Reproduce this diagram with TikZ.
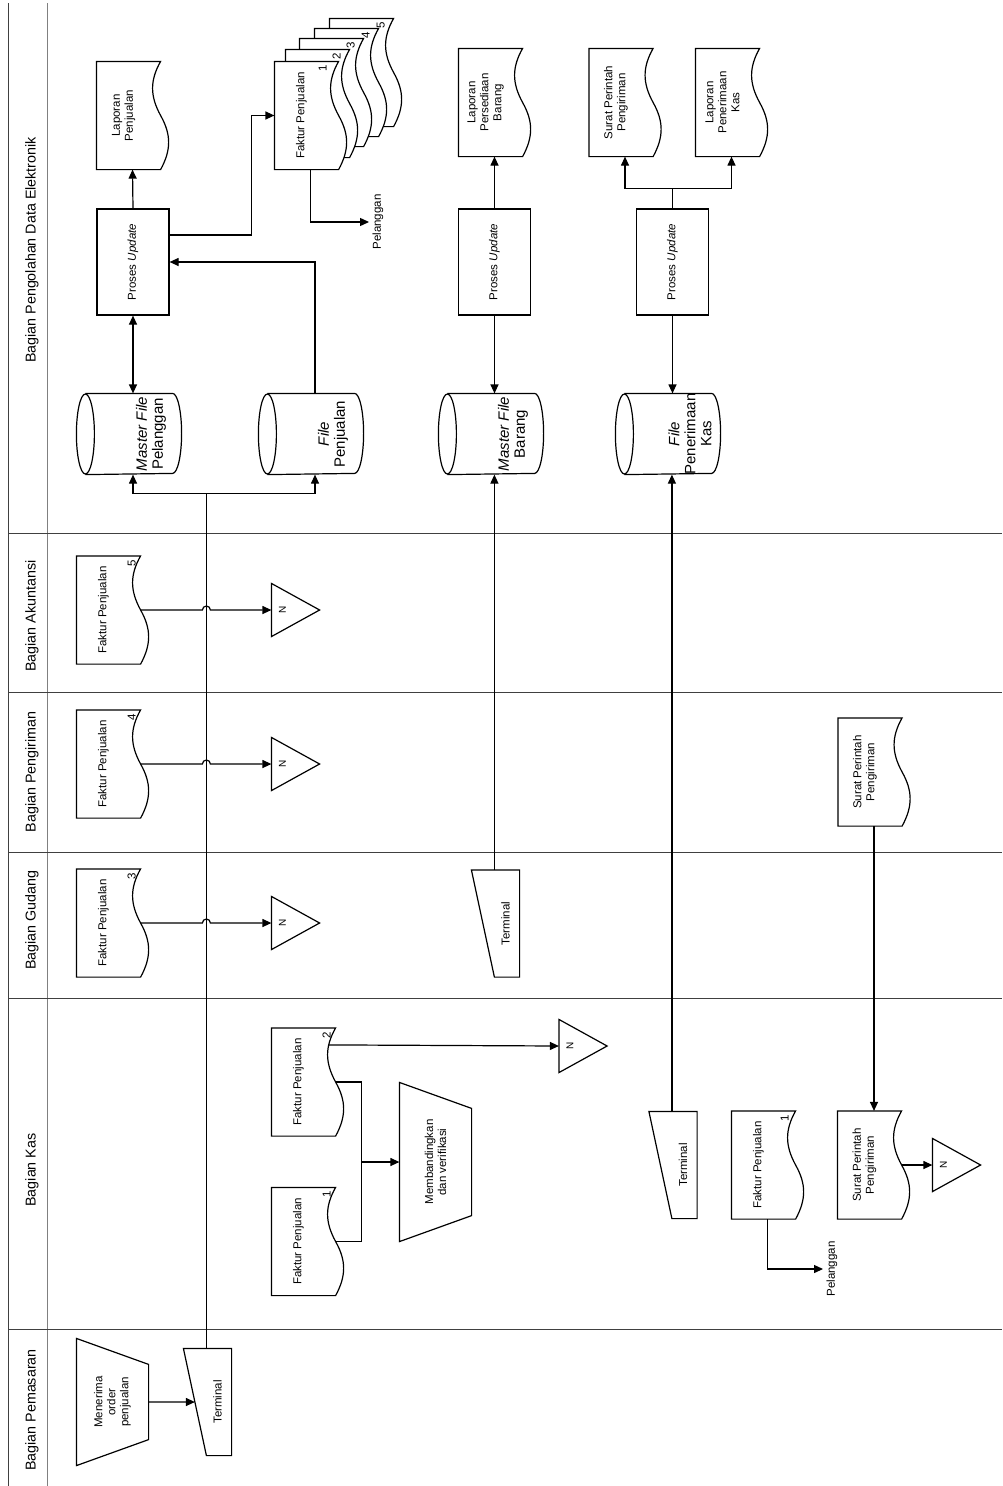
\documentclass[tikz,border=0pt]{standalone}
\usepackage{fontspec}
\setmainfont{Liberation Sans}
\usepackage{tikz}
\usetikzlibrary{arrows.meta,calc}

\newcommand{\kecil}{\fontsize{11.5}{13}\selectfont}
\newcommand{\sedang}{\fontsize{15}{16}\selectfont}
\newcommand{\lajur}{\fontsize{14.3}{16}\selectfont}
\newcommand{\mini}{\fontsize{10}{12}\selectfont}

\tikzset{
  garis/.style={black!75, line width=1pt},
  teks/.style={rotate=90, align=center, font=\kecil, inner sep=0pt},
  dokbox/.style={rectangle, inner sep=0pt, minimum width=71pt, minimum height=107pt},
  prosesbox/.style={rectangle, draw, inner sep=0pt, minimum width=72pt, minimum height=106pt},
  silbox/.style={rectangle, inner sep=0pt, minimum width=104pt, minimum height=80pt},
  termbox/.style={rectangle, inner sep=0pt, minimum width=47pt, minimum height=106pt},
  arsipbox/.style={rectangle, inner sep=0pt, minimum width=47pt, minimum height=52pt},
  manbox/.style={rectangle, inner sep=0pt, minimum width=71pt},
  panah/.style={-{Triangle[length=9pt,width=8pt]}},
  panah2/.style={{Triangle[length=9pt,width=8pt]}-{Triangle[length=9pt,width=8pt]}},
}

% dokumen: nama, posisi, teks
\newcommand{\dokumen}[3]{%
  \node[dokbox] (#1) at (#2) {};
  \draw[fill=white] (#1.north west) -- ($(#1.north east)+(-8,0)$)
    .. controls ($(#1.north east)+(-18.7,19)$) and ($(#1.north east)+(-18.7,34.5)$) .. ($(#1.east)+(-8,0)$)
    .. controls ($(#1.east)+(2.7,19)$) and ($(#1.east)+(2.7,34.5)$) .. ($(#1.south east)+(-8,0)$)
    -- (#1.south west) -- cycle;
  \node[teks] (#1-t) at ($(#1)+(-9,0)$) {#3};
}
% nomor lembar: nama, nomor, jarak dari kanan
\newcommand{\nomor}[3]{%
  \node[teks] (#1-n) at ($(#1.north east)+(-#3,7)$) {#2};
}
\newcommand{\proses}[3]{%
  \node[prosesbox] (#1) at (#2) {};
  \node[teks] (#1-t) at (#1) {#3};
}
\newcommand{\silinder}[3]{%
  \node[silbox] (#1) at (#2) {};
  \draw ($(#1.west)+(9,0)$) ellipse [x radius=9, y radius=40];
  \draw ($(#1.north west)+(9,0)$) -- ($(#1.north east)+(-9,0)$)
    arc [start angle=-90, end angle=90, x radius=9, y radius=40]
    -- ($(#1.south west)+(9,0)$);
  \node[teks, font=\sedang] (#1-t) at ($(#1)+(22,0)$) {#3};
}
\newcommand{\terminal}[2]{%
  \node[termbox] (#1) at (#2) {};
  \draw (#1.north west) -- (#1.north east) -- (#1.south east)
    -- ($(#1.south west)+(23,0)$) coordinate (#1-b) -- cycle;
  \coordinate (#1-a) at ($(#1.north west)+(23,0)$);
  \coordinate (#1-k) at ($(#1.north west)!0.5!(#1-b)$);
  \node[teks] (#1-t) at ($(#1)+(10,0)$) {Terminal};
}
% manual: nama, posisi, tinggi, teks
\newcommand{\manual}[4]{%
  \node[manbox, minimum height=#3] (#1) at (#2) {};
  \draw (#1.north west) -- ($(#1.north east)+(0,26)$)
    -- ($(#1.south east)+(0,-26)$) -- (#1.south west) -- cycle;
  \node[teks] (#1-t) at (#1) {#4};
}
\newcommand{\arsip}[2]{%
  \node[arsipbox] (#1) at (#2) {};
  \draw (#1.north west) -- (#1.east) -- (#1.south west) -- cycle;
  \node[teks, font=\mini] (#1-t) at ($(#1.west)+(11,0)$) {N};
}

\begin{document}
\begin{tikzpicture}[x=1pt, y=-1pt, line width=1.2pt]
\useasboundingbox (0,0) rectangle (1002,1486);
%%%%% Lajur %%%%%
\draw[garis] (8,3) -- (8,1486);
\draw[garis, gray] (47,3) -- (47,1486);
\foreach \y in {533,692,852,998,1329}{
\draw[garis] (8,\y) -- (1002,\y);
}
\foreach \nama/\y in {Bagian Pengolahan Data Elektronik/250, Bagian Akuntansi/616, Bagian Pengiriman/772, Bagian Gudang/920, Bagian Kas/1170, Bagian Pemasaran/1410}{
\node[teks, font=\lajur] (lajur\y) at (32,\y) {\nama};
}

%%%%% Bagian Pemasaran %%%%%
\manual{mo}{112.5,1402}{126pt}{Menerima\\order\\penjualan}
\terminal{tp}{207.5,1402}
\draw[panah] (mo.east) -- (tp-k);
\path (tp-a) ++(0,-855) coordinate (cab);

%%%%% Bagian Kas %%%%%
\dokumen{fk2}{307.5,1082}{Faktur Penjualan}
\nomor{fk2}{2}{17}
\dokumen{fk1}{307.5,1241.5}{Faktur Penjualan}
\nomor{fk1}{1}{17}
\manual{mv}{435.5,1162}{158pt}{Membandingkan\\dan verifikasi}
\arsip{nk}{583,1046}
\terminal{tk}{673,1165}
\dokumen{fk1b}{767.5,1165}{Faktur Penjualan}
\nomor{fk1b}{1}{19}
\node[teks] (plg2) at (832,1269) {Pelanggan};
\dokumen{sk}{873.5,1165}{Surat Perintah\\Pengiriman}
\arsip{ns}{956.5,1165}
\coordinate (gab) at ($(fk2.east)+(18,0)$);
\draw ($(fk2.east)+(-8,0)$) -- (gab) |- ($(fk1.east)+(-8,0)$);
\draw[panah] (gab |- mv.west) -- (mv.west);
\draw[panah] ($(fk2.north east)+(-15,17)$) -- (nk.west);
\draw[panah] (fk1b.south) |- ([xshift=-3pt]plg2.north);
\draw[panah] ($(sk.east)+(-8,0)$) -- (ns.west);

%%%%% Bagian Pengiriman %%%%%
\dokumen{sp}{874,772}{Surat Perintah\\Pengiriman}
\draw[panah] (sp.south) -- (sp.south |- sk.north);

%%%%% Faktur ke arsip (Akuntansi, Pengiriman, Gudang) %%%%%
\foreach \i/\y in {5/610, 4/764, 3/923}{
\dokumen{fa\i}{112.5,\y}{Faktur Penjualan}
\nomor{fa\i}{\i}{17}
\arsip{na\i}{295.5,\y}
\draw[panah] ($(fa\i.east)+(-8,0)$) -- ($(cab |- fa\i.east)+(-4,0)$)
  arc [start angle=180, end angle=360, radius=4] -- (na\i.west);
}

%%%%% Bagian Gudang %%%%%
\terminal{tg}{495.5,923.5}

%%%%% Bagian Pengolahan Data Elektronik %%%%%
\proses{pu1}{133,262}{Proses \textit{Update}}
\proses{pu2}{494.5,262}{Proses \textit{Update}}
\proses{pu3}{672.5,262}{Proses \textit{Update}}
\dokumen{lp}{132.5,115.5}{Laporan\\Penjualan}
\dokumen{lpb}{494.5,102.5}{Laporan\\Persediaan\\Barang}
\dokumen{spp}{625,102.5}{Surat Perintah\\Pengiriman}
\dokumen{lpk}{731.5,102.5}{Laporan\\Penerimaan\\Kas}
\silinder{mfp}{129,434}{\textit{Master File}\\Pelanggan}
\silinder{fpj}{311,434}{\textit{File}\\Penjualan}
\silinder{mfb}{491,434}{\textit{Master File}\\Barang}
\silinder{fpk}{668,434}{\textit{File}\\Penerimaan\\Kas}
\foreach \i/\x/\y in {5/365.5/72.5, 4/350.5/82.5, 3/335.5/92.5, 2/321.5/103.5}{
\dokumen{fs\i}{\x,\y}{}
\nomor{fs\i}{\i}{21}
}
\dokumen{fs1}{310.5,115.5}{Faktur Penjualan}
\nomor{fs1}{1}{24}
\node[teks] (plg1) at (378,222) {Pelanggan};

\draw[panah] (pu1.north) -- (lp.south);
\draw[panah2] (pu1.south) -- (pu1.south |- mfp.north);
\draw[panah] ($(fpj.north)+(4,0)$) |- (pu1.east);
\draw[panah] ($(pu1.east)+(0,-27)$) -- ++(82,0) |- (fs1.west);
\draw[panah] (fs1.south) |- ([xshift=-3pt]plg1.north);
\draw (tp-a) -- (cab);
\draw[panah] (cab) -| (pu1.south |- mfp.south);
\draw[panah] (cab) -| ($(fpj.south)+(4,0)$);
\draw[panah] (pu2.north) -- (lpb.south);
\draw[panah] (pu2.south) -- (pu2.south |- mfb.north);
\draw[panah] (tg-a) -- (tg-a |- mfb.south);
\draw (pu3.north) -- ++(0,-20) coordinate (cab2);
\draw[panah] (cab2) -| (spp.south);
\draw[panah] (cab2) -| (lpk.south);
\draw[panah] (pu3.south) -- (pu3.south |- fpk.north);
\draw[panah] (tk-a) -- (tk-a |- fpk.south);
\end{tikzpicture}
\end{document}
